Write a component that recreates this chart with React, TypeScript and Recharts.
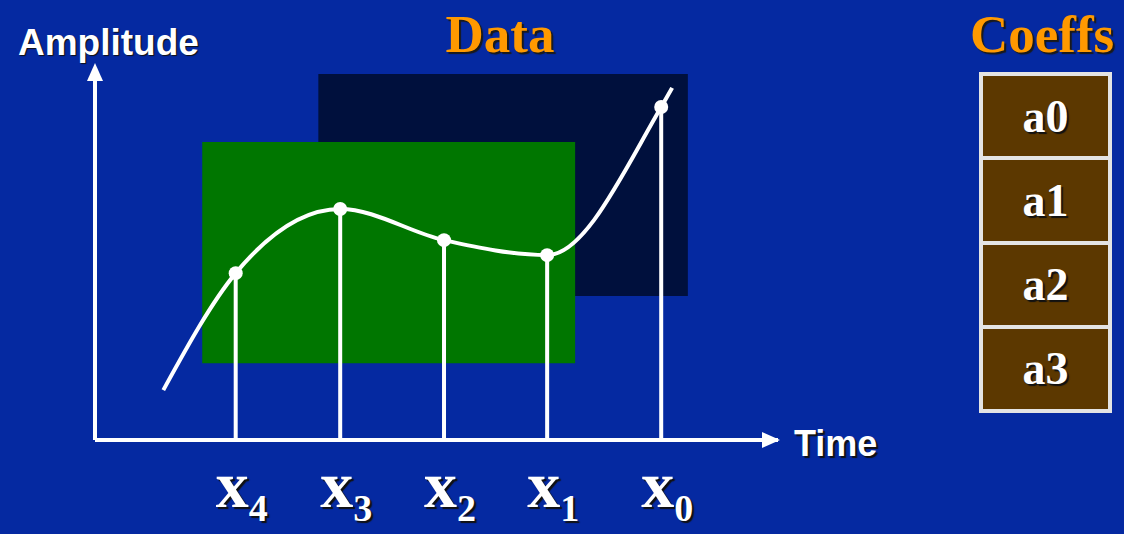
import React from 'react';
import { ComposedChart, Line, XAxis, YAxis, ReferenceArea, ReferenceLine, ReferenceDot } from 'recharts';

// sample points on the curve (time, amplitude), time axis runs 0..100
const subscripts = ['4', '3', '2', '1', '0'];
const sampleTimes = [20.6, 35.9, 51.1, 66.2, 82.9];
const sampleAmps = [44.5, 61.6, 53.3, 49.3, 88.8];
const curveStart = [10, 13.3];
const curveEnd = [84.5, 93.9];

// boxes as [t1, t2, a1, a2]
const dataBox = [32.7, 86.8, 38.4, 97.6];
const windowBox = [15.7, 70.3, 20.5, 79.5];

const coeffs = ['a0', 'a1', 'a2', 'a3'];

const BG = '#0529a1';
const SERIF = '"Liberation Serif", "Times New Roman", serif';
const SANS = '"Liberation Sans", Arial, sans-serif';

const curveData = [
  { t: curveStart[0], a: curveStart[1], sample: false },
  ...sampleTimes.map((t, i) => ({ t, a: sampleAmps[i], sample: true })),
  { t: curveEnd[0], a: curveEnd[1], sample: false },
];

const SampleDot = (props: any) => {
  const { cx, cy, payload, index } = props;
  if (!payload.sample) return <g key={index} />;
  return <circle key={index} cx={cx} cy={cy} r={7} fill="#fff" />;
};

const SampleTick = (props: any) => {
  const { x, y, payload } = props;
  const i = sampleTimes.indexOf(payload.value);
  return (
    <text
      x={x + 6}
      y={y}
      dy={59}
      textAnchor="middle"
      fill="#fff"
      fontFamily={SERIF}
      fontWeight="bold"
      fontSize={66}
      style={{ textShadow: '2px 2px 1px #111' }}
    >
      x<tspan dy={14} fontSize={38}>{subscripts[i]}</tspan>
    </text>
  );
};

export default function App() {
  return (
    <div style={{ position: 'relative', width: 1124, height: 534, background: BG, overflow: 'hidden' }}>
      <style>{'body{margin:0}'}</style>
      <ComposedChart
        width={1124}
        height={534}
        data={curveData}
        margin={{ top: 65, right: 346, bottom: 34, left: 95 }}
      >
        <XAxis
          type="number"
          dataKey="t"
          domain={[0, 100]}
          ticks={sampleTimes}
          interval={0}
          tick={<SampleTick />}
          tickLine={false}
          axisLine={{ stroke: '#fff', strokeWidth: 4 }}
          height={60}
          allowDataOverflow
        />
        <YAxis type="number" domain={[0, 100]} hide width={0} allowDataOverflow />
        <ReferenceArea x1={dataBox[0]} x2={dataBox[1]} y1={dataBox[2]} y2={dataBox[3]} fill="#00103d" fillOpacity={1} stroke="none" />
        <ReferenceArea x1={windowBox[0]} x2={windowBox[1]} y1={windowBox[2]} y2={windowBox[3]} fill="#007600" fillOpacity={1} stroke="none" />
        <ReferenceLine segment={[{ x: 0, y: 0 }, { x: 0, y: 97 }]} stroke="#fff" strokeWidth={4} ifOverflow="visible" />
        {sampleTimes.map((t, i) => (
          <ReferenceLine
            key={t}
            segment={[{ x: t, y: 0 }, { x: t, y: sampleAmps[i] }]}
            stroke="#fff"
            strokeWidth={4}
          />
        ))}
        <Line
          type="monotone"
          dataKey="a"
          stroke="#fff"
          strokeWidth={4}
          dot={SampleDot}
          activeDot={false}
          isAnimationActive={false}
        />
        <ReferenceDot
          x={100}
          y={0}
          r={0}
          ifOverflow="visible"
          shape={(p: any) => (
            <g>
              <path d={`M${p.cx + 2} ${p.cy} l-18 -8 l0 16 z`} fill="#fff" />
              <text x={p.cx + 16} y={p.cy + 16} fill="#fff" fontFamily={SANS} fontWeight="bold" fontSize={36}
                style={{ textShadow: '2px 2px 1px #111' }}>Time</text>
            </g>
          )}
        />
        <ReferenceDot
          x={0}
          y={100}
          r={0}
          ifOverflow="visible"
          shape={(p: any) => (
            <g>
              <path d={`M${p.cx} ${p.cy - 2} l-8 18 l16 0 z`} fill="#fff" />
              <text x={p.cx - 77} y={p.cy - 10} fill="#fff" fontFamily={SANS} fontWeight="bold" fontSize={37}
                style={{ textShadow: '1px 1px 1px #111' }}>Amplitude</text>
            </g>
          )}
        />
      </ComposedChart>
      <div style={{ position: 'absolute', left: 400, width: 200, top: 8, textAlign: 'center', fontFamily: SERIF, fontWeight: 'bold', fontSize: 53, lineHeight: '53px', color: '#ff9900', textShadow: '2px 2px 1px #1a1a1a' }}>
        Data
      </div>
      <div style={{ position: 'absolute', left: 970, top: 8, fontFamily: SERIF, fontWeight: 'bold', fontSize: 53, lineHeight: '53px', color: '#ff9900', textShadow: '2px 2px 1px #1a1a1a' }}>
        Coeffs
      </div>
      <div style={{ position: 'absolute', left: 979, top: 72, width: 133, height: 341, boxSizing: 'border-box', border: '4px solid #e4e4e4', display: 'flex', flexDirection: 'column', background: '#e4e4e4', gap: 4 }}>
        {coeffs.map((c) => (
          <div key={c} style={{ flex: 1, background: '#5c3800', display: 'flex', alignItems: 'center', justifyContent: 'center', fontFamily: SERIF, fontWeight: 'bold', fontSize: 46, color: '#fff', textShadow: '2px 2px 1px #111' }}>
            {c}
          </div>
        ))}
      </div>
    </div>
  );
}
